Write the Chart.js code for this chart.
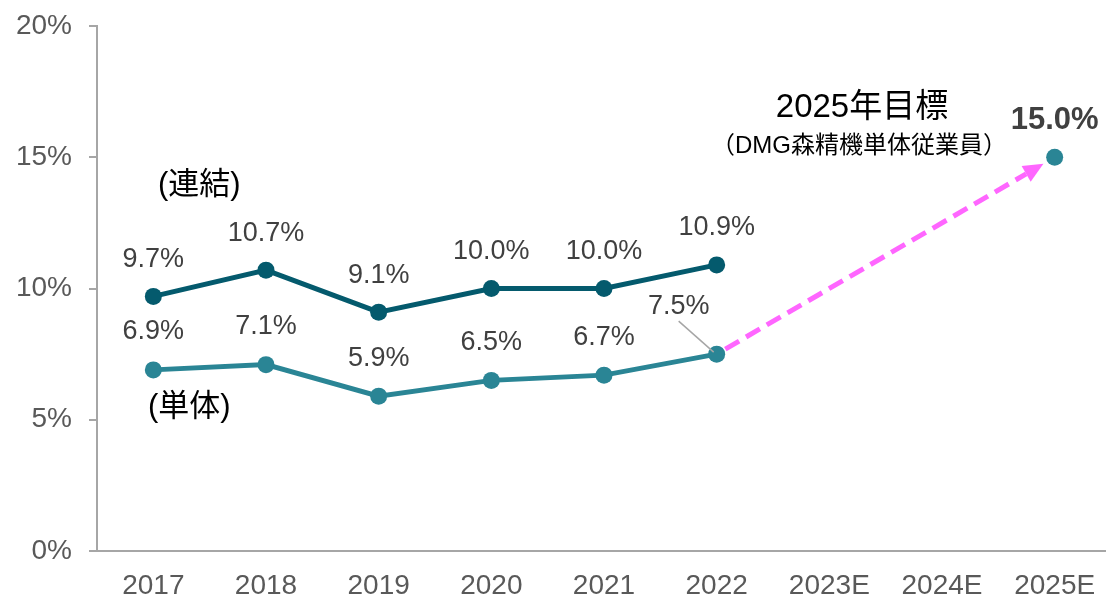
<!DOCTYPE html>
<html>
<head>
<meta charset="utf-8">
<script src="https://cdn.jsdelivr.net/npm/chart.js@4"></script>
<style>
  html, body { margin: 0; padding: 0; background: #fff; overflow: hidden; }
</style>
</head>
<body>
<canvas id="rate" width="1112" height="600"></canvas>
<script>
"use strict"

// 年度
let years = ["2017", "2018", "2019", "2020", "2021", "2022", "2023E", "2024E", "2025E"]
// 連結
let renketsu = [9.7, 10.7, 9.1, 10.0, 10.0, 10.9, null, null, null]
// 単体
let tantai = [6.9, 7.1, 5.9, 6.5, 6.7, 7.5, null, null, null]
// 2025年目標
let mokuhyo = [null, null, null, null, null, null, null, null, 15.0]
let yTicks = [0, 5, 10, 15, 20]

let FONT = "'Liberation Sans', Arial, 'Noto Sans CJK JP', sans-serif"
let DARK = "#045a6d"
let LIGHT = "#2a8595"

// data labels + arrow + text
let extras = {
    id: "extras",
    afterDatasetsDraw(chart) {
        let ctx = chart.ctx
        let x = chart.scales.x
        let y = chart.scales.y
        ctx.save()

        // arrow from 2022 単体 to target
        let i0 = tantai.length - 1
        while (tantai[i0] == null) i0--
        let x0 = x.getPixelForValue(i0), y0 = y.getPixelForValue(tantai[i0])
        let x1 = x.getPixelForValue(mokuhyo.length - 1), y1 = y.getPixelForValue(mokuhyo[mokuhyo.length - 1])
        let ang = Math.atan2(y1 - y0, x1 - x0)
        let sx = x0 + Math.cos(ang) * 10, sy = y0 + Math.sin(ang) * 10
        let tx = x1 - Math.cos(ang) * 13, ty = y1 - Math.sin(ang) * 13
        let hl = 20
        let bx = tx - Math.cos(ang) * hl, by = ty - Math.sin(ang) * hl
        ctx.strokeStyle = "#ff66ff"
        ctx.lineWidth = 5
        ctx.setLineDash([16, 8])
        ctx.beginPath()
        ctx.moveTo(sx, sy)
        ctx.lineTo(bx, by)
        ctx.stroke()
        ctx.setLineDash([])
        ctx.fillStyle = "#ff66ff"
        ctx.beginPath()
        ctx.moveTo(tx, ty)
        ctx.lineTo(bx + Math.sin(ang) * 9, by - Math.cos(ang) * 9)
        ctx.lineTo(bx - Math.sin(ang) * 9, by + Math.cos(ang) * 9)
        ctx.closePath()
        ctx.fill()

        ctx.textAlign = "center"
        ctx.textBaseline = "middle"
        ctx.fillStyle = "#404040"
        ctx.font = "27px " + FONT
        renketsu.forEach((v, i) => {
            if (v == null) return
            ctx.fillText(v.toFixed(1) + "%", x.getPixelForValue(i), y.getPixelForValue(v) - 37)
        })
        tantai.forEach((v, i) => {
            if (v == null) return
            let px = x.getPixelForValue(i), py = y.getPixelForValue(v)
            if (i == i0) {
                ctx.fillText(v.toFixed(1) + "%", px - 38, py - 48)
                ctx.strokeStyle = "#a6a6a6"
                ctx.lineWidth = 1.5
                ctx.beginPath()
                ctx.moveTo(px - 38, py - 33)
                ctx.lineTo(px - 3, py - 2)
                ctx.stroke()
            } else {
                ctx.fillText(v.toFixed(1) + "%", px, py - 38)
            }
        })
        ctx.font = "bold 31px " + FONT
        ctx.fillText(mokuhyo[8].toFixed(1) + "%", x1, y1 - 37)

        ctx.fillStyle = "#000"
        ctx.font = "31px " + FONT
        ctx.fillText("(連結)", x.getPixelForValue(0) + 46, y.getPixelForValue(13.94))
        ctx.fillText("(単体)", x.getPixelForValue(0) + 36, y.getPixelForValue(5.45))
        ctx.font = "33px " + FONT
        ctx.fillText("2025年目標", 862, 108)
        ctx.font = "24px " + FONT
        ctx.fillText("（DMG森精機単体従業員）", 859, 146)
        ctx.restore()
    }
}

let chart = new Chart(document.querySelector("#rate"), {
    type: "line",
    data: {
        labels: years,
        datasets: [{
            label: "連結",
            data: renketsu,
            borderColor: DARK,
            backgroundColor: DARK,
            borderWidth: 5,
            pointRadius: 8.5,
            pointBorderWidth: 0,
            pointHoverRadius: 8.5
        }, {
            label: "単体",
            data: tantai,
            borderColor: LIGHT,
            backgroundColor: LIGHT,
            borderWidth: 5,
            pointRadius: 8.5,
            pointBorderWidth: 0,
            pointHoverRadius: 8.5
        }, {
            label: "目標",
            data: mokuhyo,
            showLine: false,
            borderColor: LIGHT,
            backgroundColor: LIGHT,
            pointRadius: 8.5,
            pointBorderWidth: 0
        }]
    },
    options: {
        responsive: false,
        maintainAspectRatio: false,
        animation: false,
        layout: { autoPadding: false, padding: { top: 26, right: 1, left: 0, bottom: 0 } },
        plugins: {
            legend: { display: false },
            tooltip: { enabled: false }
        },
        scales: {
            x: {
                offset: true,
                grid: { display: false },
                border: { color: "#a6a6a6", width: 2 },
                ticks: { color: "#595959", font: { size: 28, family: FONT }, padding: 10, maxRotation: 0, autoSkip: false },
                afterFit(s) { s.height = 49; s.paddingLeft = 0; s.paddingRight = 0 }
            },
            y: {
                min: 0,
                max: 20,
                afterBuildTicks(s) { s.ticks = yTicks.map(v => ({ value: v })) },
                grid: { drawOnChartArea: false, tickLength: 8, color: "#a6a6a6", lineWidth: 2 },
                border: { color: "#a6a6a6", width: 2 },
                ticks: { color: "#595959", font: { size: 28, family: FONT }, padding: 17, callback: v => v + "%" },
                afterFit(s) { s.width = 97; s.paddingTop = 0; s.paddingBottom = 0 }
            }
        }
    },
    plugins: [extras]
})
</script>
</body>
</html>
